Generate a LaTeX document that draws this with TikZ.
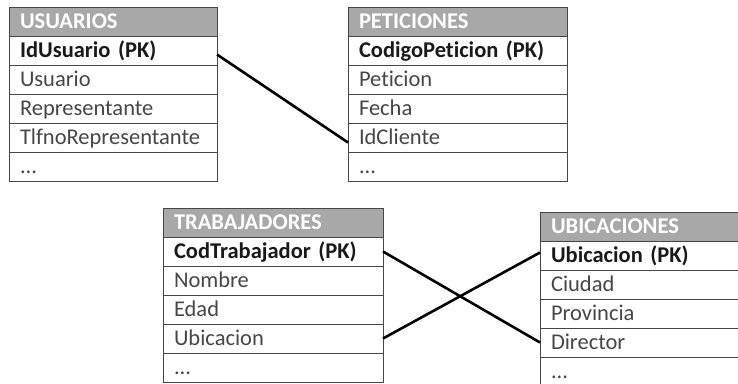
\documentclass[tikz,border=0pt]{standalone}
\usepackage{fontspec}
\setmainfont{Carlito}[Ligatures=NoCommon]
\usetikzlibrary{positioning}
\definecolor{cabecera}{RGB}{168,168,168}
\definecolor{borde}{RGB}{70,70,70}
\definecolor{texto}{RGB}{70,70,70}
\definecolor{textoclave}{RGB}{25,25,25}
\tikzset{
  campo/.style={
      draw=borde,
      line width=0.9pt,
      outer sep=0pt,
      anchor=north west,
      align=left,
      minimum height=29pt,
      inner xsep=11pt,
      inner ysep=0pt,
      text height=18pt,
      text depth=3.5pt,
      text=texto,
      font=\fontsize{22.5}{26}\selectfont
      },
  titulo/.style={campo, fill=cabecera, text=white, font=\fontsize{22.5}{26}\selectfont\bfseries},
  clave/.style={campo, text=textoclave, font=\fontsize{22.5}{26}\selectfont\bfseries},
  relacion/.style={line width=2.6pt, black}
}

\begin{document}
\begin{tikzpicture}[x=1pt,y=-1pt]
\useasboundingbox (0,0) rectangle (738,383);
\begin{scope}[text width=186pt]
\node [titulo] (usu) at (9,7) {USUARIOS};
\node [clave, below=0pt of usu] (usu1) {IdUsuario (PK)};
\node [campo, below=0pt of usu1] (usu2) {Usuario};
\node [campo, below=0pt of usu2] (usu3) {Representante};
\node [campo, below=0pt of usu3] (usu4) {TlfnoRepresentante};
\node [campo, below=0pt of usu4] (usu5) {...};
\end{scope}
\begin{scope}[text width=197pt]
\node [titulo] (pet) at (348,7) {PETICIONES};
\node [clave, below=0pt of pet] (pet1) {CodigoPeticion (PK)};
\node [campo, below=0pt of pet1] (pet2) {Peticion};
\node [campo, below=0pt of pet2] (pet3) {Fecha};
\node [campo, below=0pt of pet3] (pet4) {IdCliente};
\node [campo, below=0pt of pet4] (pet5) {...};
\end{scope}
\begin{scope}[text width=198pt]
\node [titulo] (tra) at (163,208) {TRABAJADORES};
\node [clave, below=0pt of tra] (tra1) {CodTrabajador (PK)};
\node [campo, below=0pt of tra1] (tra2) {Nombre};
\node [campo, below=0pt of tra2] (tra3) {Edad};
\node [campo, below=0pt of tra3] (tra4) {Ubicacion};
\node [campo, below=0pt of tra4] (tra5) {...};
\end{scope}
\begin{scope}[text width=198pt]
\node [titulo] (ubi) at (540,212) {UBICACIONES};
\node [clave, below=0pt of ubi] (ubi1) {Ubicacion (PK)};
\node [campo, below=0pt of ubi1] (ubi2) {Ciudad};
\node [campo, below=0pt of ubi2] (ubi3) {Provincia};
\node [campo, below=0pt of ubi3] (ubi4) {Director};
\node [campo, below=0pt of ubi4] (ubi5) {...};
\end{scope}
\draw [relacion] ([yshift=-4pt]usu1.east) -- ([yshift=-5pt]pet4.west);
\draw [relacion] (tra1.east) -- (ubi4.west);
\draw [relacion] (tra4.east) -- ([yshift=3pt]ubi1.west);
\end{tikzpicture}
\end{document}
